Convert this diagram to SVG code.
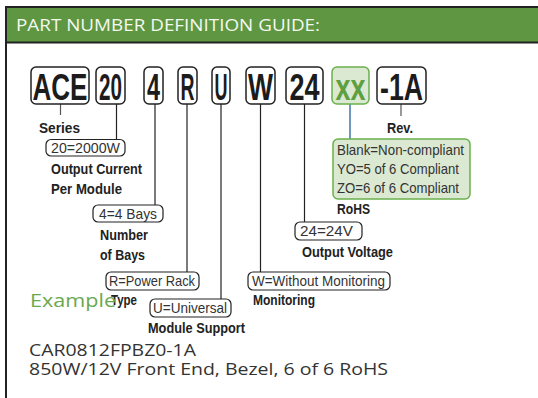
<svg xmlns="http://www.w3.org/2000/svg" width="538" height="398" viewBox="0 0 538 398">
<style>
.code{font-family:"Liberation Sans Narrow","Liberation Sans",Arial,sans-serif;font-weight:bold;font-size:26px;fill:#1c1c1c;text-anchor:middle}
.cbox{fill:#fff;stroke:#222;stroke-width:1.5}
.vbox{fill:#fff;stroke:#222;stroke-width:1.2}
.val{font-family:"Liberation Sans Narrow","Liberation Sans",Arial,sans-serif;font-size:15px;fill:#333}
.lbl{font-family:"Liberation Sans Narrow","Liberation Sans",Arial,sans-serif;font-weight:bold;font-size:15px;fill:#222}
.geo{font-family:"Open Sans","DejaVu Sans",sans-serif}
.conn line{stroke:#222;stroke-width:1.2}
</style>
<rect x="0" y="0" width="538" height="398" fill="#fff"/>
<g id="frame">
<rect x="6" y="7" width="540" height="35.5" fill="#5e9641" stroke="#222" stroke-width="2"/>
<line x1="6" y1="6" x2="6" y2="398" stroke="#222" stroke-width="2"/>
<text x="16" y="31" class="geo" font-size="17" fill="#f4f8f0" textLength="304" lengthAdjust="spacingAndGlyphs">PART NUMBER DEFINITION GUIDE:</text>
</g>
<g id="connectors" class="conn">
<line x1="60.5" y1="104" x2="60.5" y2="115" style="stroke:#555"/>
<line x1="116.5" y1="104" x2="116.5" y2="139"/>
<line x1="155" y1="104" x2="155" y2="205"/>
<line x1="187" y1="104" x2="187" y2="272"/>
<line x1="221" y1="104" x2="221" y2="299"/>
<line x1="260.5" y1="104" x2="260.5" y2="272"/>
<line x1="304.5" y1="104" x2="304.5" y2="222"/>
<line x1="350" y1="104" x2="350" y2="139" style="stroke:#3f74aa;stroke-width:1.5"/>
<line x1="401" y1="104" x2="401" y2="116" style="stroke:#555"/>
</g>
<g id="node-ACE">
<rect class="cbox" x="31" y="67" width="58" height="37" rx="5"/>
<text class="code" transform="translate(60,100) scale(1,1.45)" textLength="55" lengthAdjust="spacingAndGlyphs">ACE</text>
</g>
<g id="node-20">
<rect class="cbox" x="96" y="67" width="29" height="37" rx="5"/>
<text class="code" transform="translate(110.5,100) scale(1,1.45)" textLength="23" lengthAdjust="spacingAndGlyphs">20</text>
</g>
<g id="node-4">
<rect class="cbox" x="144" y="67" width="19" height="37" rx="5"/>
<text class="code" transform="translate(153.5,100) scale(1,1.45)" textLength="13" lengthAdjust="spacingAndGlyphs">4</text>
</g>
<g id="node-R">
<rect class="cbox" x="178" y="67" width="19" height="37" rx="5"/>
<text class="code" transform="translate(187.5,100) scale(1,1.45)" textLength="14" lengthAdjust="spacingAndGlyphs">R</text>
</g>
<g id="node-U">
<rect class="cbox" x="212" y="67" width="18" height="37" rx="5"/>
<text class="code" transform="translate(221,100) scale(1,1.45)" textLength="13" lengthAdjust="spacingAndGlyphs">U</text>
</g>
<g id="node-W">
<rect class="cbox" x="246" y="67" width="29" height="37" rx="5"/>
<text class="code" transform="translate(260.5,100) scale(1,1.45)" textLength="25" lengthAdjust="spacingAndGlyphs">W</text>
</g>
<g id="node-24">
<rect class="cbox" x="286" y="67" width="37" height="37" rx="5"/>
<text class="code" transform="translate(304.5,100) scale(1,1.45)" textLength="30" lengthAdjust="spacingAndGlyphs">24</text>
</g>
<g id="node-xx">
<rect x="332" y="67" width="37" height="37" rx="5" fill="#dbe8d2" stroke="#6ab04c" stroke-width="1.5"/>
<text class="code" transform="translate(350.5,100) scale(1,1.45)" textLength="30" lengthAdjust="spacingAndGlyphs" style="fill:#5ea040">xx</text>
</g>
<g id="node-1A">
<rect class="cbox" x="377" y="67" width="49" height="37" rx="5"/>
<text class="code" transform="translate(401.5,100) scale(1,1.45)" textLength="43" lengthAdjust="spacingAndGlyphs">-1A</text>
</g>
<g id="series">
<text class="lbl" x="39" y="133" textLength="41" lengthAdjust="spacingAndGlyphs">Series</text>
</g>
<g id="output-current">
<rect class="vbox" x="46" y="139.5" width="79" height="16.5" rx="5"/>
<text class="val" x="51" y="153" textLength="69" lengthAdjust="spacingAndGlyphs">20=2000W</text>
<text class="lbl" x="51" y="174" textLength="91" lengthAdjust="spacingAndGlyphs">Output Current</text>
<text class="lbl" x="51" y="194" textLength="71" lengthAdjust="spacingAndGlyphs">Per Module</text>
</g>
<g id="bays">
<rect class="vbox" x="93" y="205" width="70" height="17" rx="5"/>
<text class="val" x="99" y="219" textLength="58" lengthAdjust="spacingAndGlyphs">4=4 Bays</text>
<text class="lbl" x="100" y="240" textLength="48" lengthAdjust="spacingAndGlyphs">Number</text>
<text class="lbl" x="100" y="260" textLength="45" lengthAdjust="spacingAndGlyphs">of Bays</text>
</g>
<g id="type">
<rect class="vbox" x="106" y="272" width="93" height="18" rx="5"/>
<text class="val" x="109" y="286" textLength="86" lengthAdjust="spacingAndGlyphs">R=Power Rack</text>
<text class="lbl" x="111" y="305" textLength="26" lengthAdjust="spacingAndGlyphs">Type</text>
</g>
<g id="module-support">
<rect class="vbox" x="150" y="299" width="81" height="18" rx="5"/>
<text class="val" x="153" y="313" textLength="74" lengthAdjust="spacingAndGlyphs">U=Universal</text>
<text class="lbl" x="148" y="333" textLength="97" lengthAdjust="spacingAndGlyphs">Module Support</text>
</g>
<g id="monitoring">
<rect class="vbox" x="248" y="272" width="142" height="18" rx="5"/>
<text class="val" x="252" y="286" textLength="133" lengthAdjust="spacingAndGlyphs">W=Without Monitoring</text>
<text class="lbl" x="253" y="305" textLength="62" lengthAdjust="spacingAndGlyphs">Monitoring</text>
</g>
<g id="output-voltage">
<rect class="vbox" x="295" y="222" width="67" height="18" rx="5"/>
<text class="val" x="300" y="236" textLength="53" lengthAdjust="spacingAndGlyphs">24=24V</text>
<text class="lbl" x="302" y="257" textLength="91" lengthAdjust="spacingAndGlyphs">Output Voltage</text>
</g>
<g id="rohs">
<rect x="333" y="139" width="137" height="60" rx="5" fill="#dbe8d2" stroke="#6ab04c" stroke-width="1.5"/>
<text class="val" x="337" y="155" textLength="127" lengthAdjust="spacingAndGlyphs">Blank=Non-compliant</text>
<text class="val" x="337" y="174" textLength="122" lengthAdjust="spacingAndGlyphs">YO=5 of 6 Compliant</text>
<text class="val" x="337" y="193" textLength="122" lengthAdjust="spacingAndGlyphs">ZO=6 of 6 Compliant</text>
<text class="lbl" x="337" y="214" textLength="33" lengthAdjust="spacingAndGlyphs">RoHS</text>
</g>
<g id="rev">
<text class="lbl" x="387" y="133" textLength="26" lengthAdjust="spacingAndGlyphs">Rev.</text>
</g>
<g id="example">
<text class="geo" x="30" y="307" font-size="19" fill="#6aa84f" textLength="86" lengthAdjust="spacingAndGlyphs">Example</text>
<text class="geo" x="29" y="356" font-size="16.5" fill="#333" textLength="167" lengthAdjust="spacingAndGlyphs">CAR0812FPBZ0-1A</text>
<text class="geo" x="29" y="375" font-size="16.5" fill="#333" textLength="359" lengthAdjust="spacingAndGlyphs">850W/12V Front End, Bezel, 6 of 6 RoHS</text>
</g>
</svg>
